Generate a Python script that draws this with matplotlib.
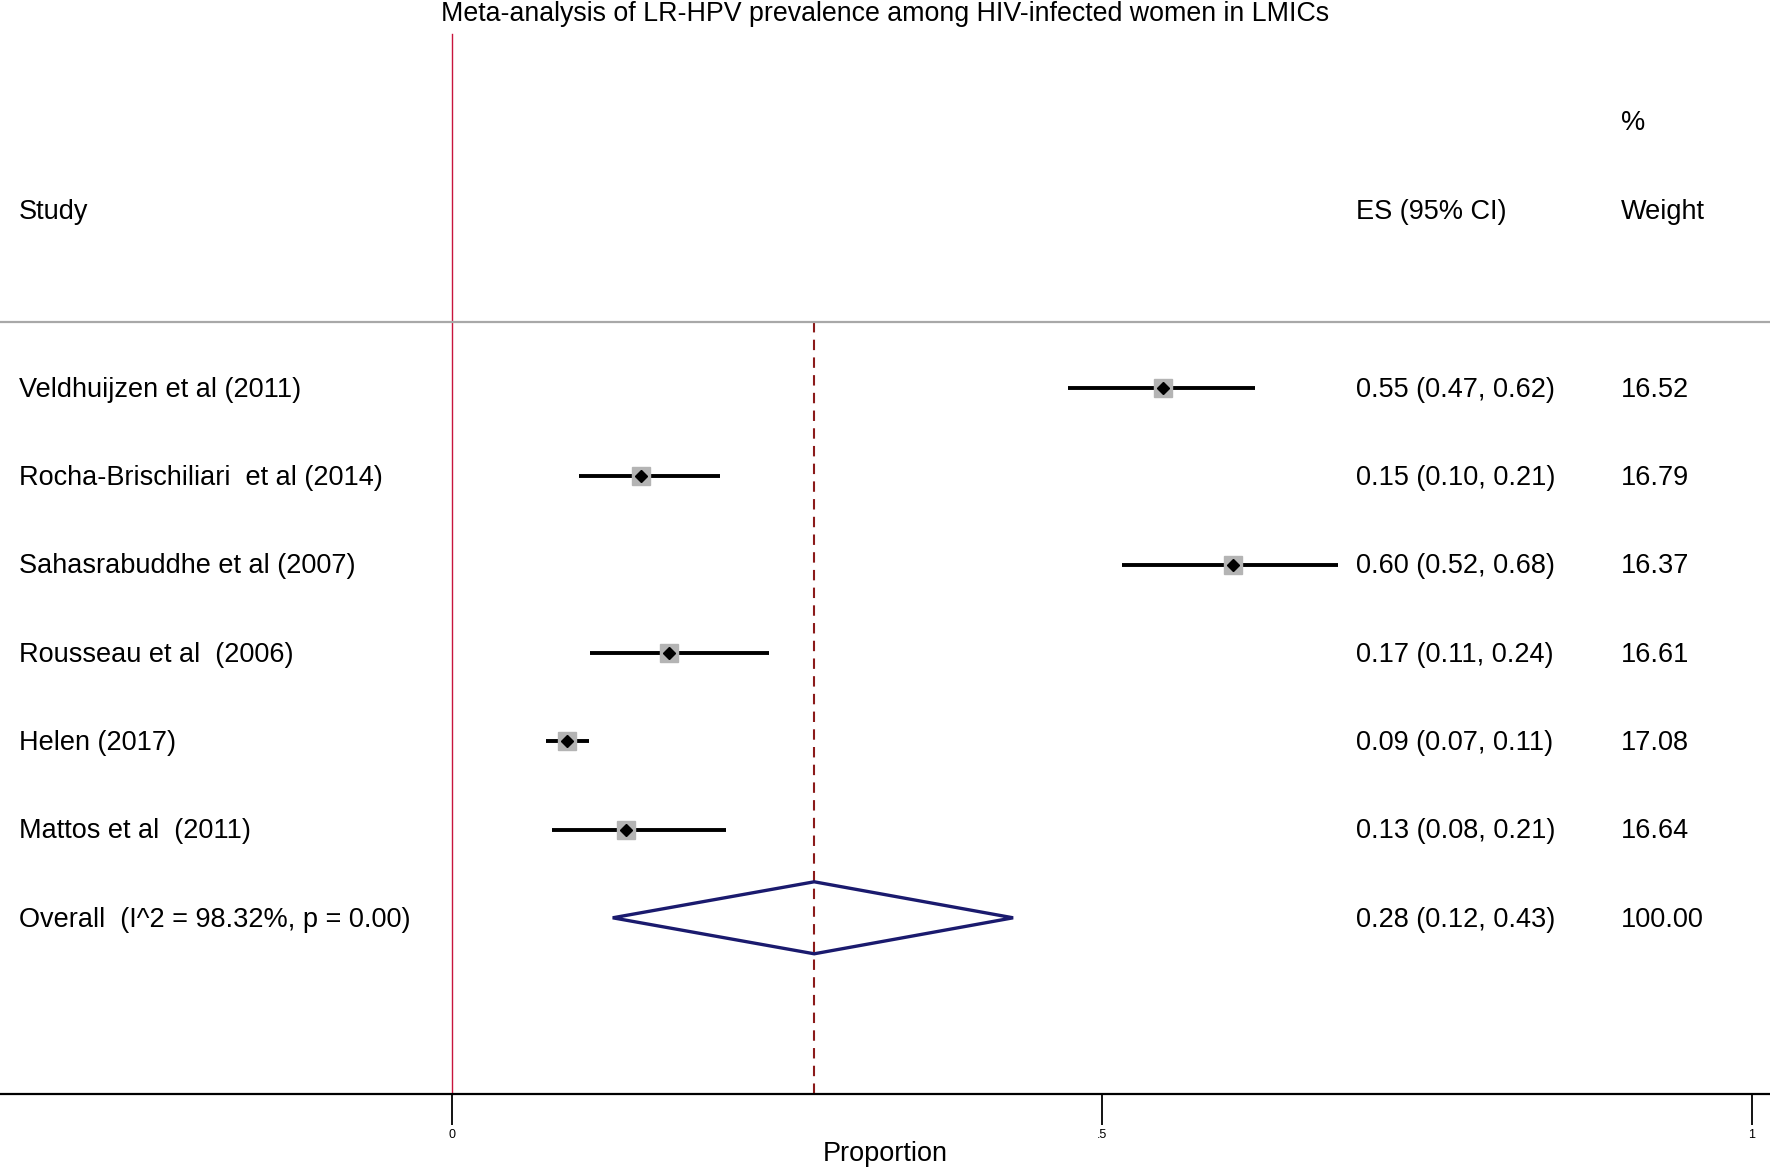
import matplotlib
matplotlib.use("Agg")
import matplotlib.pyplot as plt
from matplotlib.patches import Polygon

studies = ["Veldhuijzen et al (2011)", "Rocha-Brischiliari  et al (2014)",
           "Sahasrabuddhe et al (2007)", "Rousseau et al  (2006)",
           "Helen (2017)", "Mattos et al  (2011)"]
es = [0.547, 0.146, 0.601, 0.167, 0.0886, 0.1346]
lo = [0.474, 0.098, 0.516, 0.1068, 0.0729, 0.0773]
hi = [0.6182, 0.2067, 0.6816, 0.244, 0.106, 0.211]
weights = [16.52, 16.79, 16.37, 16.61, 17.08, 16.64]
overall_label = "Overall  (I^2 = 98.32%, p = 0.00)"
overall = [0.279, 0.124, 0.432]
overall_weight = 100.00
xticks = [0, 0.5, 1]
xticklabels = ["0", ".5", "1"]

W, H = 1770, 1170
fig = plt.figure(figsize=(W / 100, H / 100), dpi=100)
ax = fig.add_axes([0, 0, 1, 1])

# coordinate frame: x in proportion units, y in row units
x0_px, px_per_unit = 451.5, 1300.0
y0_px, row_px = 388.0, 88.3
ax.set_xlim(-x0_px / px_per_unit, (W - x0_px) / px_per_unit)
ax.set_ylim((H - y0_px) / row_px, -y0_px / row_px)


def xpx(p):
    return (p - x0_px) / px_per_unit


def ypx(p):
    return (p - y0_px) / row_px


main_font = ["Liberation Sans", "DejaVu Sans"]
narrow_font = ["Liberation Sans Narrow", "Liberation Sans", "DejaVu Sans"]
fs = 19.5

axis_y = ypx(1094)
for s in ["top", "right", "left"]:
    ax.spines[s].set_visible(False)
ax.spines["bottom"].set_position(("data", axis_y))
ax.spines["bottom"].set_linewidth(1.6)
ax.set_xticks(xticks)
ax.set_xticklabels(xticklabels, fontsize=9, family=narrow_font)
ax.tick_params(axis="x", direction="out", length=22, width=1.3, pad=3)
ax.set_yticks([])

# title
ax.text(xpx(885), ypx(14), "Meta-analysis of LR-HPV prevalence among HIV-infected women in LMICs",
        ha="center", va="center", fontsize=19.3, family=narrow_font)
ax.text(xpx(885), ypx(1154), "Proportion", ha="center", va="center",
        fontsize=19.5, family=narrow_font)

# headers
ax.text(xpx(19), ypx(212), "Study", ha="left", va="center", fontsize=fs, family=main_font)
ax.text(xpx(1356), ypx(212), "ES (95% CI)", ha="left", va="center", fontsize=fs, family=main_font)
ax.text(xpx(1621), ypx(212), "Weight", ha="left", va="center", fontsize=fs, family=main_font)
ax.text(xpx(1621), ypx(123), "%", ha="left", va="center", fontsize=fs, family=main_font)

ax.axhline(ypx(322), color="#a8a8a8", lw=1.6)

# null line and overall line
ax.plot([0, 0], [ypx(34), axis_y], color="#c8143c", lw=1.0, zorder=1)
ax.plot([overall[0], overall[0]], [ypx(322), axis_y], color="#8b1a1a", lw=1.5,
        ls=(0, (5, 3.5)), zorder=1)

for i, (name, e, l, h, w) in enumerate(zip(studies, es, lo, hi, weights)):
    ax.plot([l, h], [i, i], color="black", lw=2.8, solid_capstyle="butt", zorder=2)
    ax.plot(e, i, marker="s", ms=13 * (w / 16.6) ** 0.5, color="#b4b4b4", mec="#b4b4b4", zorder=3)
    ax.plot(e, i, marker="D", ms=6, color="black", zorder=4)
    ax.text(xpx(19), i + 0.02, name, ha="left", va="center", fontsize=fs, family=main_font)
    ax.text(xpx(1356), i + 0.02, f"{e:.2f} ({l:.2f}, {h:.2f})", ha="left", va="center",
            fontsize=fs, family=main_font)
    ax.text(xpx(1621), i + 0.02, f"{w:.2f}", ha="left", va="center", fontsize=fs, family=main_font)

yo = len(studies)
half = 36 / row_px
diamond = Polygon([[overall[1], yo], [overall[0], yo - half], [overall[2], yo], [overall[0], yo + half]],
                  closed=True, fill=False, edgecolor="#1a1a6e", lw=2.4, zorder=3)
ax.add_patch(diamond)
ax.text(xpx(19), yo + 0.02, overall_label, ha="left", va="center", fontsize=fs, family=main_font)
ax.text(xpx(1356), yo + 0.02, f"{overall[0]:.2f} ({overall[1]:.2f}, {overall[2]:.2f})", ha="left",
        va="center", fontsize=fs, family=main_font)
ax.text(xpx(1621), yo + 0.02, f"{overall_weight:.2f}", ha="left", va="center", fontsize=fs,
        family=main_font)

fig.savefig("out.png", dpi=100)
